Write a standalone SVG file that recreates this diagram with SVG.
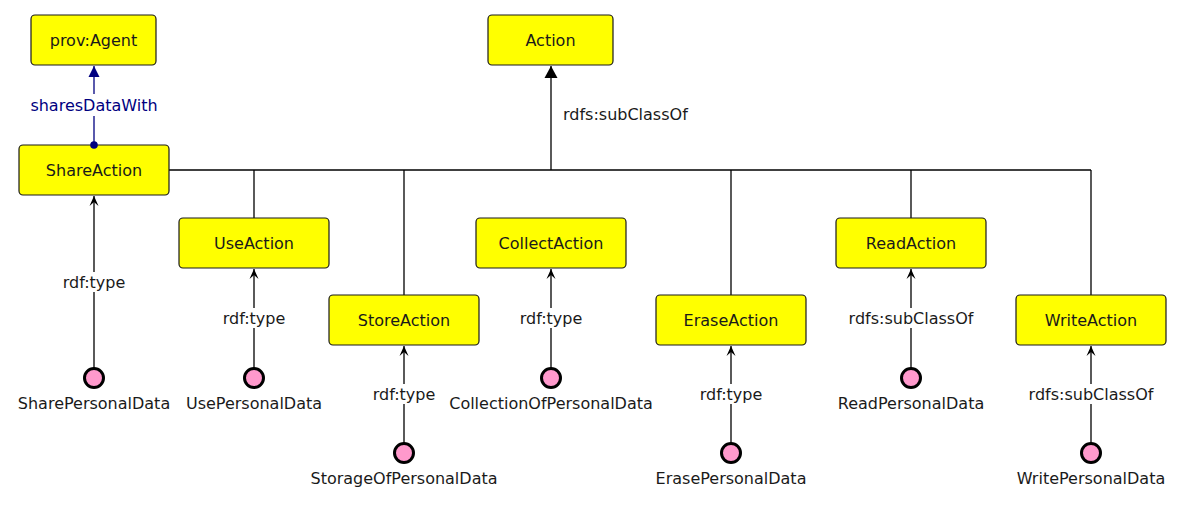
<svg xmlns="http://www.w3.org/2000/svg" width="1184" height="506" viewBox="0 0 1184 506">
<style>
text{font-family:"DejaVu Sans","Liberation Sans",sans-serif;font-size:16px;fill:#1a1a1a;text-anchor:middle;dominant-baseline:central}
.node rect{fill:#ffff00;stroke:#1a1a1a;stroke-width:1.2}
.inst circle{fill:#ff99cc;stroke:#000;stroke-width:3}
.c line{stroke:#000;stroke-width:1.3;fill:none}
.lblbg{fill:#fff}
.navy{fill:#000080}
</style>
<defs>
<marker id="open" markerUnits="userSpaceOnUse" markerWidth="14" markerHeight="14" viewBox="-12 -7 14 14" refX="0" refY="0" orient="auto">
<path d="M0,0 L-10,-4.5 L-6,0 L-10,4.5 Z" fill="#000"/>
</marker>
<marker id="tri" markerUnits="userSpaceOnUse" markerWidth="16" markerHeight="16" viewBox="-14 -8 16 16" refX="0" refY="0" orient="auto">
<path d="M0,0 L-12,-6.5 L-12,6.5 Z" fill="#000"/>
</marker>
<marker id="navytri" markerUnits="userSpaceOnUse" markerWidth="16" markerHeight="16" viewBox="-14 -8 16 16" refX="0" refY="0" orient="auto">
<path d="M0,0 L-11,-5.5 L-11,5.5 Z" fill="#000080"/>
</marker>
</defs>
<rect width="1184" height="506" fill="#fff"/>
<g id="connectors" class="c">
<line x1="551" y1="170" x2="551" y2="66" marker-end="url(#tri)"/>
<text x="563" y="114" style="text-anchor:start">rdfs:subClassOf</text>
<line x1="169" y1="170" x2="1091" y2="170"/>
<line x1="254" y1="170" x2="254" y2="218"/>
<line x1="404" y1="170" x2="404" y2="295"/>
<line x1="731" y1="170" x2="731" y2="295"/>
<line x1="911" y1="170" x2="911" y2="218"/>
<line x1="1091" y1="170" x2="1091" y2="295"/>
<line x1="94" y1="145" x2="94" y2="66" style="stroke:#000080" marker-end="url(#navytri)"/>
<rect class="lblbg" x="28" y="94" width="132" height="22"/>
<text x="94" y="105" style="fill:#000080">sharesDataWith</text>
<line x1="94" y1="368" x2="94" y2="196" marker-end="url(#open)"/>
<line x1="254" y1="368" x2="254" y2="269" marker-end="url(#open)"/>
<line x1="551" y1="368" x2="551" y2="269" marker-end="url(#open)"/>
<line x1="911" y1="368" x2="911" y2="269" marker-end="url(#open)"/>
<line x1="404" y1="443" x2="404" y2="346" marker-end="url(#open)"/>
<line x1="731" y1="443" x2="731" y2="346" marker-end="url(#open)"/>
<line x1="1091" y1="443" x2="1091" y2="346" marker-end="url(#open)"/>
<rect class="lblbg" x="60" y="272" width="68" height="20"/>
<text x="94" y="282">rdf:type</text>
<rect class="lblbg" x="220" y="308" width="68" height="20"/>
<text x="254" y="318">rdf:type</text>
<rect class="lblbg" x="517" y="308" width="68" height="20"/>
<text x="551" y="318">rdf:type</text>
<rect class="lblbg" x="848" y="308" width="126" height="20"/>
<text x="911" y="318">rdfs:subClassOf</text>
<rect class="lblbg" x="370" y="384" width="68" height="20"/>
<text x="404" y="394">rdf:type</text>
<rect class="lblbg" x="697" y="384" width="68" height="20"/>
<text x="731" y="394">rdf:type</text>
<rect class="lblbg" x="1028" y="384" width="126" height="20"/>
<text x="1091" y="394">rdfs:subClassOf</text>
</g>
<g id="provAgent" class="node"><rect x="31" y="15" width="125" height="50" rx="4"/><text x="93.5" y="40">prov:Agent</text></g>
<g id="Action" class="node"><rect x="488" y="15" width="125" height="50" rx="4"/><text x="550.5" y="40">Action</text></g>
<g id="ShareAction" class="node"><rect x="19" y="145" width="150" height="50" rx="4"/><text x="94" y="170">ShareAction</text></g>
<g id="UseAction" class="node"><rect x="179" y="218" width="150" height="50" rx="4"/><text x="254" y="243">UseAction</text></g>
<g id="StoreAction" class="node"><rect x="329" y="295" width="150" height="50" rx="4"/><text x="404" y="320">StoreAction</text></g>
<g id="CollectAction" class="node"><rect x="476" y="218" width="150" height="50" rx="4"/><text x="551" y="243">CollectAction</text></g>
<g id="EraseAction" class="node"><rect x="656" y="295" width="150" height="50" rx="4"/><text x="731" y="320">EraseAction</text></g>
<g id="ReadAction" class="node"><rect x="836" y="218" width="150" height="50" rx="4"/><text x="911" y="243">ReadAction</text></g>
<g id="WriteAction" class="node"><rect x="1016" y="295" width="150" height="50" rx="4"/><text x="1091" y="320">WriteAction</text></g>
<g id="SharePersonalData" class="inst"><circle cx="94" cy="378" r="9.5"/><text x="94" y="403">SharePersonalData</text></g>
<g id="UsePersonalData" class="inst"><circle cx="254" cy="378" r="9.5"/><text x="254" y="403">UsePersonalData</text></g>
<g id="CollectionOfPersonalData" class="inst"><circle cx="551" cy="378" r="9.5"/><text x="551" y="403">CollectionOfPersonalData</text></g>
<g id="ReadPersonalData" class="inst"><circle cx="911" cy="378" r="9.5"/><text x="911" y="403">ReadPersonalData</text></g>
<g id="StorageOfPersonalData" class="inst"><circle cx="404" cy="453" r="9.5"/><text x="404" y="478">StorageOfPersonalData</text></g>
<g id="ErasePersonalData" class="inst"><circle cx="731" cy="453" r="9.5"/><text x="731" y="478">ErasePersonalData</text></g>
<g id="WritePersonalData" class="inst"><circle cx="1091" cy="453" r="9.5"/><text x="1091" y="478">WritePersonalData</text></g>
<g id="sharesDataWith-start"><circle cx="94" cy="145" r="3.8" class="navy"/></g>
</svg>
